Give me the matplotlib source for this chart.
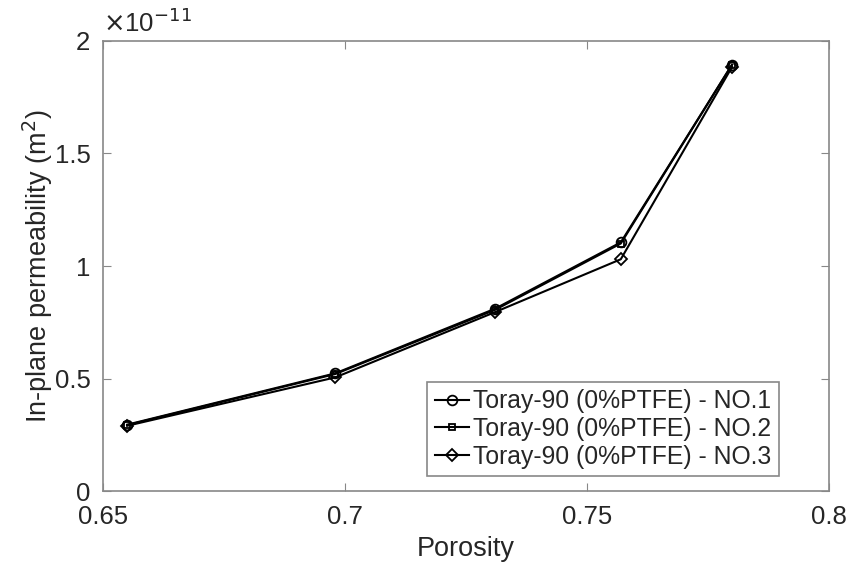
import matplotlib.pyplot as plt
import numpy as np

plt.rcParams['font.family'] = ['Liberation Sans', 'DejaVu Sans']

# Porosity and in-plane permeability (x 1e-11 m^2)
porosity = [0.655, 0.698, 0.731, 0.757, 0.780]
perm_no1 = [0.295, 0.523, 0.810, 1.105, 1.895]
perm_no2 = [0.293, 0.520, 0.805, 1.100, 1.895]
perm_no3 = [0.290, 0.505, 0.795, 1.030, 1.885]
labels = ['Toray-90 (0%PTFE) - NO.1',
          'Toray-90 (0%PTFE) - NO.2',
          'Toray-90 (0%PTFE) - NO.3']

fig = plt.figure(figsize=(8.51, 5.69), dpi=100)
ax = fig.add_axes([0.121, 0.137, 0.853, 0.791])

scale = 1e-11
sizes = {'o': 7, 's': 4.5, 'D': 6}
for ys, m, lab in zip([perm_no1, perm_no2, perm_no3], ['o', 's', 'D'], labels):
    ax.plot(porosity, np.array(ys) * scale, color='black', linewidth=1.5,
            marker=m, markersize=sizes[m], markerfacecolor='none',
            markeredgewidth=1.3, label=lab)

ax.set_xlim(0.65, 0.8)
ax.set_ylim(0, 2e-11)
ax.set_xticks([0.65, 0.7, 0.75, 0.8])
ax.set_xticklabels(['0.65', '0.7', '0.75', '0.8'])
ax.set_yticks(np.array([0, 0.5, 1, 1.5, 2]) * scale)
ax.set_yticklabels(['0', '0.5', '1', '1.5', '2'])

txt = '#262626'
for s in ax.spines.values():
    s.set_color('#888888')
    s.set_linewidth(1.2)
ax.tick_params(direction='in', length=6, width=0.8, color='#888888',
               labelsize=18.5, labelcolor=txt, top=True, right=True)
ax.tick_params(axis='x', pad=10)
ax.tick_params(axis='y', pad=9)

ax.set_xlabel('Porosity', fontsize=19.5, color=txt, labelpad=5)
ax.set_ylabel('In-plane permeability (m$^2$)', fontsize=19.5, color=txt, labelpad=0)
ax.text(0.0, 1.008, r'$\times$10$^{-11}$', transform=ax.transAxes,
        fontsize=18.5, ha='left', va='bottom', color=txt)

leg = ax.legend(loc='lower right', bbox_to_anchor=(0.931, 0.033), fontsize=17.8,
                handlelength=1.4, handletextpad=0.15, borderpad=0.3,
                labelspacing=0.15, borderaxespad=0, fancybox=False, framealpha=1)
leg.get_frame().set_edgecolor('#888888')
leg.get_frame().set_linewidth(1.2)
for t in leg.get_texts():
    t.set_color(txt)

fig.savefig('out.png', dpi=100)
